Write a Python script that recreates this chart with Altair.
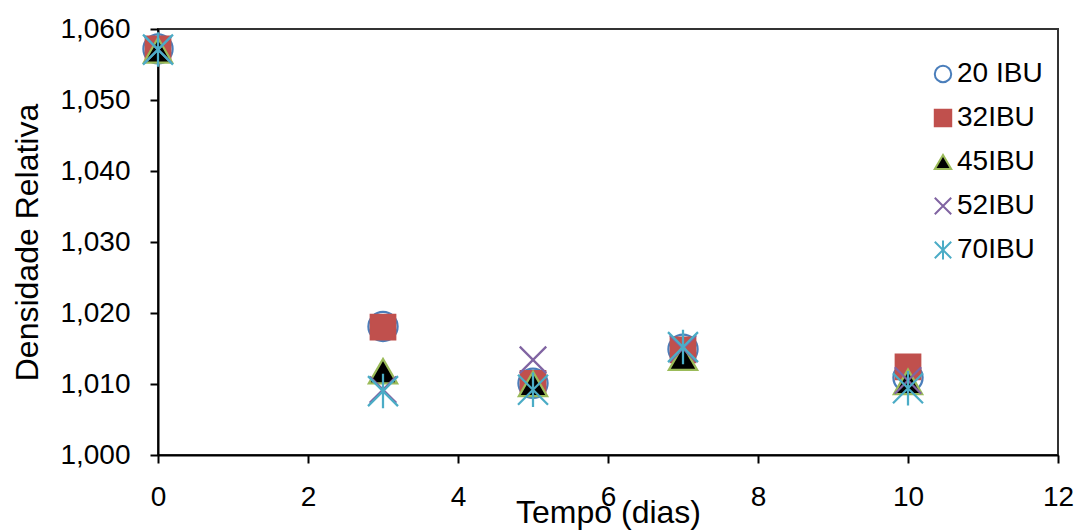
import altair as alt
import pandas as pd

tempo = [0, 3, 5, 7, 10]
series = ["20 IBU", "32IBU", "45IBU", "52IBU", "70IBU"]
ibu20 = [1.0572, 1.0181, 1.0101, 1.0149, 1.0109]
ibu32 = [1.0572, 1.0180, 1.0101, 1.0148, 1.0124]
ibu45 = [1.0570, 1.0118, 1.0100, 1.0137, 1.0103]
ibu52 = [1.0571, 1.0092, 1.0134, 1.0150, 1.0105]
ibu70 = [1.0571, 1.0090, 1.0092, 1.0152, 1.0094]

shapes = ["circle", "square", "triangle-up",
          "M-1,-1L1,1M-1,1L1,-1",
          "M-1,-1L1,1M-1,1L1,-1M0,-1.15L0,1.15"]
fills = ["transparent", "#C0504D", "#000000", "transparent", "transparent"]
strokes = ["#4A7EBB", "#C0504D", "#9BBB59", "#8064A2", "#4BACC6"]
sizes = [850, 600, 800, 700, 900]

rows = []
for name, vals in zip(series, [ibu20, ibu32, ibu45, ibu52, ibu70]):
    for t, v in zip(tempo, vals):
        rows.append({"serie": name, "tempo": t, "dens": v})
df = pd.DataFrame(rows)

leg = alt.Legend(title=None, orient="none", legendX=771, legendY=31,
                 labelFontSize=28, labelFont="Liberation Sans", labelColor="black",
                 symbolSize=270, symbolStrokeWidth=2, rowPadding=16,
                 labelOffset=0, padding=0)

xenc = alt.X("tempo:Q", scale=alt.Scale(domain=[0, 12], nice=False),
             axis=alt.Axis(values=[0, 2, 4, 6, 8, 10, 12], title="Tempo (dias)",
                           grid=False, tickSize=8, labelPadding=20,
                           titleY=67, titleBaseline="alphabetic"))
yenc = alt.Y("dens:Q", scale=alt.Scale(domain=[1.0, 1.06], nice=False, zero=False),
             axis=alt.Axis(values=[1.0, 1.01, 1.02, 1.03, 1.04, 1.05, 1.06],
                           labelExpr="replace(format(datum.value, '.3f'), '.', ',')",
                           title="Densidade Relativa", grid=False, tickSize=8,
                           labelPadding=20, titleX=-131, titleBaseline="middle"))

layers = []
for name, sz in zip(series, sizes):
    layers.append(
        alt.Chart(df).transform_filter(alt.datum.serie == name)
        .mark_point(filled=True, strokeWidth=2.25, opacity=1, size=sz)
        .encode(
            x=xenc, y=yenc,
            shape=alt.Shape("serie:N", scale=alt.Scale(domain=series, range=shapes), legend=leg),
            fill=alt.Fill("serie:N", scale=alt.Scale(domain=series, range=fills), legend=leg),
            stroke=alt.Stroke("serie:N", scale=alt.Scale(domain=series, range=strokes), legend=leg),
        )
    )

chart = alt.layer(*layers).properties(
    width=900, height=426,
    background="white",
    autosize=alt.AutoSizeParams(type="none"),
    padding={"left": 158, "top": 29, "right": 24, "bottom": 75},
).configure_view(
    stroke="#333333", strokeWidth=2
).configure_axis(
    domainColor="black", domainWidth=2, tickColor="black", tickWidth=2,
    labelFont="Liberation Sans", labelFontSize=28, labelColor="black",
    titleFont="Liberation Sans", titleFontSize=32, titleColor="black",
    titleFontWeight="normal", labelFlush=False, labelOverlap=False
)

chart.save("out.html", embed_options={"renderer": "svg", "actions": False})
